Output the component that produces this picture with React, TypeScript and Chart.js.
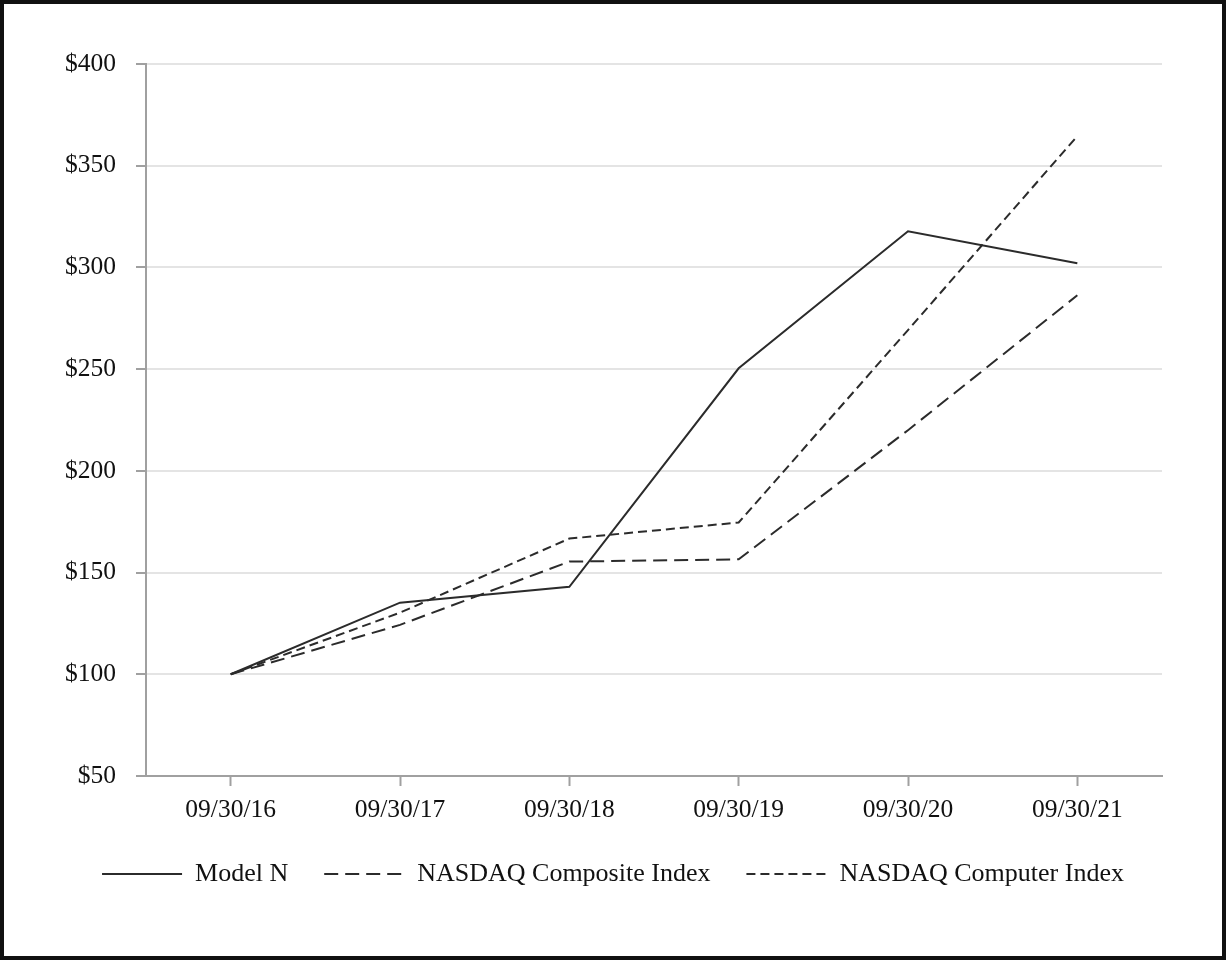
import React, { useEffect, useRef } from "react";
import { Chart, registerables } from "chart.js";

Chart.register(...registerables);

const categories = ["09/30/16", "09/30/17", "09/30/18", "09/30/19", "09/30/20", "09/30/21"];
const modelN = [100, 135.2, 143.0, 250.4, 317.8, 302.1];
const nasdaqComposite = [100, 124.3, 155.4, 156.5, 220.0, 286.3];
const nasdaqComputer = [100, 130.3, 166.7, 174.6, 269.2, 364.6];
const yTicks = [50, 100, 150, 200, 250, 300, 350, 400];

const FONT = "'Liberation Serif', 'Times New Roman', serif";

export default function App() {
  const ref = useRef<HTMLCanvasElement | null>(null);

  useEffect(() => {
    document.body.style.margin = "0";
    const canvas = ref.current;
    if (!canvas) return;
    const lineColor = "#2b2b2b";
    const chart = new Chart(canvas, {
      type: "line",
      data: {
        labels: categories,
        datasets: [
          {
            label: "Model N",
            data: modelN,
            borderColor: lineColor,
            backgroundColor: "rgba(0,0,0,0)",
            borderWidth: 2,
            pointRadius: 0,
            tension: 0,
          },
          {
            label: "NASDAQ Composite Index",
            data: nasdaqComposite,
            borderColor: lineColor,
            backgroundColor: "rgba(0,0,0,0)",
            borderWidth: 2,
            borderDash: [14, 7],
            pointRadius: 0,
            tension: 0,
          },
          {
            label: "NASDAQ Computer Index",
            data: nasdaqComputer,
            borderColor: lineColor,
            backgroundColor: "rgba(0,0,0,0)",
            borderWidth: 2,
            borderDash: [9, 5],
            pointRadius: 0,
            tension: 0,
          },
        ],
      },
      options: {
        animation: false,
        responsive: false,
        maintainAspectRatio: false,
        layout: { padding: { left: 64, right: 64, top: 64, bottom: 63 } },
        plugins: {
          tooltip: { enabled: false },
          legend: {
            display: true,
            position: "bottom",
            labels: {
              usePointStyle: true,
              pointStyleWidth: 80,
              boxWidth: 80,
              boxHeight: 2,
              padding: 36,
              color: "#111",
              font: { family: FONT, size: 26 },
              generateLabels: (c: any) =>
                c.data.datasets.map((ds: any, i: number) => ({
                  text: ds.label,
                  fillStyle: "rgba(0,0,0,0)",
                  strokeStyle: ds.borderColor,
                  lineWidth: 2,
                  lineDash: ds.borderDash || [],
                  pointStyle: "line",
                  hidden: false,
                  datasetIndex: i,
                  fontColor: "#111",
                })),
            },
          },
        },
        scales: {
          x: {
            type: "category",
            offset: true,
            afterFit: (s: any) => {
              s.height = 49;
            },
            grid: {
              display: true,
              drawOnChartArea: false,
              drawTicks: true,
              offset: false,
              tickLength: 10,
              tickColor: "#a0a0a0",
              tickWidth: 2,
            },
            border: { display: true, color: "#a0a0a0", width: 2 },
            ticks: {
              color: "#111",
              padding: 9,
              maxRotation: 0,
              autoSkip: false,
              font: { family: FONT, size: 25.5 },
            },
          },
          y: {
            min: 50,
            max: 400,
            afterFit: (s: any) => {
              s.width = 82;
            },
            afterBuildTicks: (s: any) => {
              s.ticks = yTicks.map((v) => ({ value: v }));
            },
            grid: {
              color: "#e4e4e4",
              lineWidth: 2,
              drawTicks: true,
              tickLength: 10,
              tickColor: "#a0a0a0",
              tickWidth: 2,
            },
            border: { display: true, color: "#a0a0a0", width: 2 },
            ticks: {
              color: "#111",
              padding: 20,
              font: { family: FONT, size: 25.5 },
              callback: (v: any) => "$" + v,
            },
          },
        },
      },
    });
    return () => chart.destroy();
  }, []);

  return (
    <div style={{ position: "fixed", left: 0, top: 0, width: 1226, height: 960, background: "#fff" }}>
      <canvas ref={ref} width={1226} height={960} style={{ display: "block", width: 1226, height: 960 }} />
      <div
        style={{
          position: "absolute",
          left: 0,
          top: 0,
          width: 1226,
          height: 960,
          boxSizing: "border-box",
          border: "4px solid #111",
          pointerEvents: "none",
        }}
      />
    </div>
  );
}
